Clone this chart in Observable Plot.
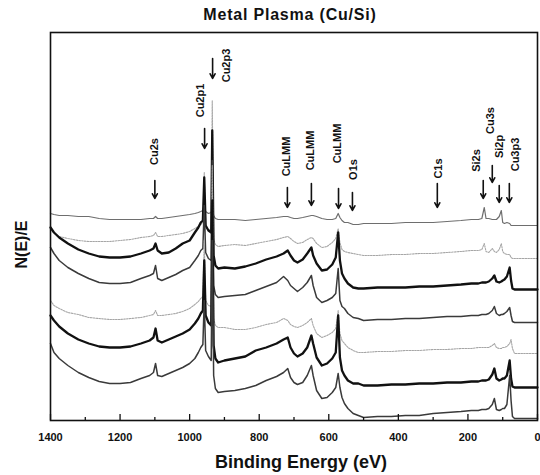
<!DOCTYPE html>
<html><head><meta charset="utf-8">
<script src="https://cdn.jsdelivr.net/npm/d3@7"></script>
<script src="https://cdn.jsdelivr.net/npm/@observablehq/plot@0.6"></script>
<style>
body{margin:0;background:#fff;font-family:"Liberation Sans",Arial,sans-serif;}
#title{width:540px;height:26px;line-height:30px;text-align:center;padding-left:40px;box-sizing:border-box;font-weight:bold;font-size:16px;letter-spacing:0.8px;color:#111;white-space:nowrap;}
</style></head><body>
<div id="title">Metal Plasma (Cu/Si)</div>
<div id="chart"></div>
<script>
// Binding energy grid (eV)
const energy = [1400,1390,1375,1350,1320,1290,1260,1230,1200,1170,1140,1115,1104,1098,1092,1080,1060,1040,1020,1000,
  985,975,968,962,958,954,946,938,935,931,926,918,900,
  870,840,810,780,750,730,718,710,700,690,675,662,650,645,635,620,605,590,580,573,568,562,555,545,530,515,
  500,460,420,380,340,300,260,220,190,170,160,153,148,140,130,124,118,110,104,100,95,88,80,76,72,66,55,40,20,0];

// N(E)/E, stacked spectra (arbitrary units), top to bottom
const spectrum1 = [207,206,205,205,204,204,202,201,201,201,201,202,202,204,202,202,203,204,205,206,
  207,208,209,210,215,209,207,208,213,205,202,201,201,
  201,200,201,202,203,204,204,203,202,202,203,204,205,205,204,202,201,201,202,207,203,200,198,198,196,196,
  197,197,197,198,198,198,199,200,201,201,202,213,202,202,201,201,201,204,210,198,197,198,197,195,195,195,195,195,195,195];
const spectrum2 = [194,188,184,182,180,179,179,179,180,181,183,184,185,188,184,184,185,186,187,189,
  192,194,196,198,248,194,190,192,320,182,176,174,175,
  176,175,177,179,181,183,184,182,179,177,178,181,183,182,177,173,174,178,182,192,178,171,169,168,167,166,
  165,165,166,166,167,167,168,169,170,170,171,177,169,168,172,169,168,171,177,169,167,166,166,163,162,162,162,162,162,162];
const spectrum3 = [193,188,183,177,171,167,164,163,163,164,167,170,172,177,170,167,168,172,177,180,
  188,193,198,200,243,195,190,188,290,165,155,152,153,
  152,154,157,161,164,167,170,165,160,158,161,167,173,165,157,150,151,156,163,188,160,147,142,137,133,132,
  132,133,133,133,134,134,135,136,137,137,138,138,138,139,142,145,139,138,139,140,141,144,153,140,132,131,131,131,131,131];
const spectrum4 = [173,167,160,153,147,142,138,137,137,138,142,145,147,155,142,140,143,146,150,153,
  160,165,170,172,215,168,162,160,260,135,126,123,124,
  125,126,130,134,138,144,140,135,132,129,133,138,145,135,123,118,120,123,127,152,120,114,112,107,103,102,
  100,101,101,102,102,103,104,104,105,105,106,106,106,107,110,114,107,105,106,106,107,109,113,105,99,98,98,98,98,98];
const spectrum5 = [120,115,112,108,106,103,102,101,101,102,103,105,106,110,105,105,106,107,109,112,
  116,119,122,124,180,120,115,114,255,102,95,93,93,
  91,91,93,96,98,102,100,96,94,93,95,98,102,95,87,83,85,88,92,110,87,80,77,73,70,68,
  68,69,69,70,70,71,71,72,72,73,73,73,73,73,75,77,73,72,72,73,73,74,77,81,72,67,67,67,67,67];
const spectrum6 = [105,100,94,87,81,77,74,73,73,74,77,80,83,92,80,78,81,84,87,91,
  97,102,107,110,160,105,98,95,220,75,62,58,60,
  62,64,70,73,77,81,83,73,67,64,67,73,85,77,63,55,57,62,68,105,63,50,45,40,37,37,
  35,35,36,36,37,37,38,38,39,39,40,40,40,41,46,52,42,40,41,42,42,45,60,42,34,33,33,33,33,33];
const spectrum7 = [77,68,62,55,48,43,39,37,37,38,42,45,48,57,45,44,47,50,53,57,
  62,68,73,76,120,70,64,60,180,45,32,28,29,
  30,32,35,40,44,48,52,43,38,36,38,45,55,45,30,22,23,28,33,47,33,23,17,12,7,5,
  3,4,4,5,5,7,8,9,10,10,11,11,11,12,16,22,11,10,11,12,12,16,45,20,4,2,2,2,2,2];

// Peak annotations
const peakNames   = ["Cu2s","Cu2p1","Cu2p3","CuLMM","CuLMM","CuLMM","O1s","C1s","Si2s","Cu3s","Si2p","Cu3p3"];
const peakEnergy  = [1100, 957, 934, 719, 650, 572, 532, 288, 156, 130, 110, 81];
const arrowTop    = [240, 292, 362, 233, 237, 232, 228, 237, 240, 255, 235, 237];
const arrowBottom = [222, 272, 342, 213, 215, 212, 210, 213, 222, 238, 218, 218];
const labelEnergy = [1101, 969, 894, 722, 653, 575, 529, 285, 176, 136, 110, 64];
const labelLevel  = [269, 320, 355, 264, 270, 277, 251, 252, 260, 300, 274, 266];

const majorTicks = [1400,1200,1000,800,600,400,200,0];
const minorTicks = [1300,1100,900,700,500,300,100];

const series = [spectrum1,spectrum2,spectrum3,spectrum4,spectrum5,spectrum6,spectrum7];
const styles = [
  {stroke:"#6e6e6e", strokeWidth:1.2},
  {stroke:"#a6a6a6", strokeWidth:1.1, strokeDasharray:"1.6,1.2"},
  {stroke:"#111", strokeWidth:2.3},
  {stroke:"#3a3a3a", strokeWidth:1.5},
  {stroke:"#a6a6a6", strokeWidth:1.1, strokeDasharray:"1.6,1.2"},
  {stroke:"#111", strokeWidth:2.3},
  {stroke:"#3a3a3a", strokeWidth:1.5}
];
const lineMarks = series.map((vals, i) =>
  Plot.line(energy.map((e, j) => ({E: e, v: vals[j]})), {x: "E", y: "v", strokeLinejoin: "round", ...styles[i]})
);
const annos = peakNames.map((n, i) => ({name: n, e: peakEnergy[i], top: arrowTop[i], bot: arrowBottom[i], lx: labelEnergy[i], ly: labelLevel[i]}));

const font = "Liberation Sans, Arial, sans-serif";
const chart = Plot.plot({
  width: 540, height: 449,
  marginLeft: 50, marginRight: 3, marginTop: 6, marginBottom: 55,
  x: {domain: [1400, 0]},
  y: {domain: [0, 388], axis: null},
  style: {fontFamily: font, background: "white", color: "#111"},
  marks: [
    ...lineMarks,
    Plot.arrow(annos, {x1: "e", x2: "e", y1: "top", y2: "bot", stroke: "#111", strokeWidth: 1.6, headLength: 5, headAngle: 55}),
    Plot.text(annos, {x: "lx", y: "ly", text: "name", rotate: -90, fontSize: 11, fontWeight: "bold", fill: "#111", textAnchor: "middle", lineAnchor: "middle"}),
    Plot.axisX({ticks: majorTicks, tickSize: -6, fill: "none", label: null, strokeWidth: 1.3}),
    Plot.axisX({ticks: minorTicks, tickSize: -3, fill: "none", label: null, strokeWidth: 1.3}),
    Plot.axisX({ticks: majorTicks, tickSize: 0, tickPadding: 13, tickFormat: d => String(d), fontSize: 11, fontWeight: "bold", label: null}),
    Plot.frame({stroke: "#111", strokeWidth: 1.6}),
    Plot.text(["Binding Energy (eV)"], {frameAnchor: "bottom", dy: 42, dx: 7, fontSize: 18, fontWeight: "bold", textAnchor: "middle", lineAnchor: "middle", fill: "#111"}),
    Plot.text(["N(E)/E"], {frameAnchor: "left", dx: -28.5, dy: 18, rotate: -90, fontSize: 16, fontWeight: "bold", textAnchor: "middle", lineAnchor: "middle", fill: "#111"})
  ]
});
document.getElementById("chart").appendChild(chart);
</script>
</body></html>
